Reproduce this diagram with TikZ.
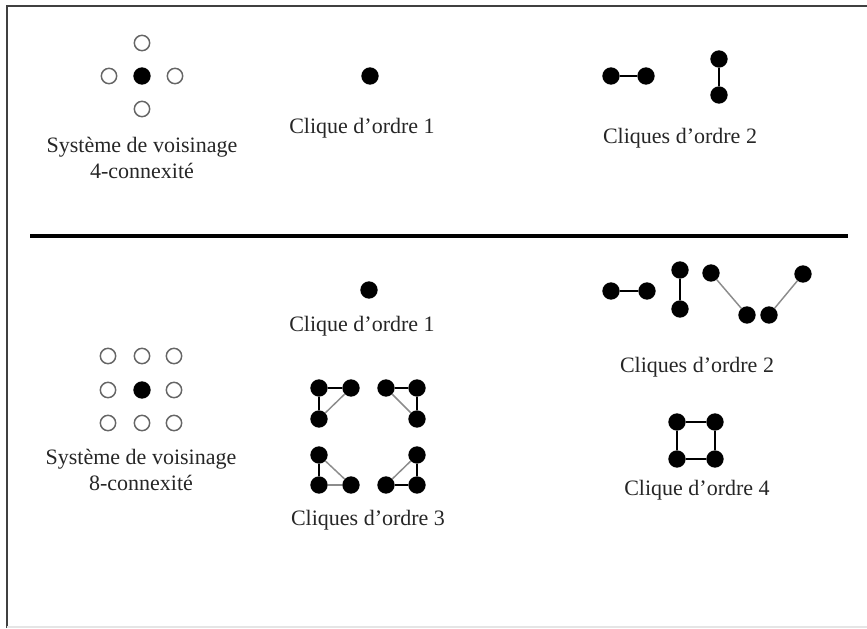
\documentclass[tikz,border=0pt]{standalone}
\usepackage{fontspec}
\setmainfont{Liberation Serif}
\begin{document}
\begin{tikzpicture}[x=0.75pt,y=-0.75pt,
  dot/.style={circle,fill=black,inner sep=0pt,minimum size=13pt},
  odot/.style={circle,draw=black!60,line width=1.1pt,fill=white,inner sep=0pt,minimum size=11.5pt},
  blk/.style={line width=1.6pt,black},
  gry/.style={line width=1.1pt,black!45},
  lbl/.style={font=\fontsize{16.5}{19.5}\selectfont,text=black!85,inner sep=0pt,align=center},
  frame/.style={line width=2pt,black!75}]
\useasboundingbox (0,0) rectangle (867,628);
% frame
\coordinate (fa) at (7,628);
\coordinate (fb) at (7,6);
\coordinate (fc) at (867,6);
\draw[frame] (fa) -- (fb) -- (fc);
\coordinate (fd) at (7,627);
\coordinate (fe) at (867,627);
\draw[line width=0.8pt,black!10] (fd) -- (fe);
% separator
\coordinate (sa) at (30,236);
\coordinate (sb) at (848,236);
\draw[line width=2.4pt] (sa) -- (sb);

% --- top: 4-connexity
\node[odot] (t4n) at (142,43) {};
\node[odot] (t4w) at (109,76) {};
\node[dot]  (t4c) at (142,76) {};
\node[odot] (t4e) at (175,76) {};
\node[odot] (t4s) at (142,109) {};
\node[lbl] (t4l) at (142,158) {Système de voisinage\\4-connexité};

% top: clique order 1
\node[dot] (t1) at (370,76) {};
\node[lbl] (t1l) at (362,128) {Clique d’ordre 1};

% top: cliques order 2
\node[dot] (t2a) at (611,76) {};
\node[dot] (t2b) at (646,76) {};
\draw[blk] (t2a) -- (t2b);
\node[dot] (t2c) at (719,59) {};
\node[dot] (t2d) at (719,95) {};
\draw[blk] (t2c) -- (t2d);
\node[lbl] (t2l) at (680,138) {Cliques d’ordre 2};

% --- bottom: 8-connexity
\node[odot] (g11) at (108,356) {};
\node[odot] (g12) at (142,356) {};
\node[odot] (g13) at (174,356) {};
\node[odot] (g21) at (108,390) {};
\node[dot]  (g22) at (142,390) {};
\node[odot] (g23) at (174,390) {};
\node[odot] (g31) at (108,423) {};
\node[odot] (g32) at (142,423) {};
\node[odot] (g33) at (174,423) {};
\node[lbl] (g8l) at (141,470) {Système de voisinage\\8-connexité};

% bottom: clique order 1
\node[dot] (b1) at (369,290) {};
\node[lbl] (b1l) at (362,326) {Clique d’ordre 1};

% bottom: cliques order 3
\node[dot] (a1) at (319,388) {};
\node[dot] (a2) at (351,388) {};
\node[dot] (a3) at (319,419) {};
\draw[blk] (a3) -- (a1) -- (a2);
\draw[gry] (a2) -- (a3);

\node[dot] (c1) at (386,388) {};
\node[dot] (c2) at (417,388) {};
\node[dot] (c3) at (417,419) {};
\draw[blk] (c1) -- (c2) -- (c3);
\draw[gry] (c1) -- (c3);

\node[dot] (d1) at (319,455) {};
\node[dot] (d2) at (319,485) {};
\node[dot] (d3) at (351,485) {};
\draw[blk] (d1) -- (d2);
\draw[gry] (d2) -- (d3);
\draw[gry] (d1) -- (d3);

\node[dot] (e1) at (417,455) {};
\node[dot] (e2) at (386,485) {};
\node[dot] (e3) at (417,485) {};
\draw[blk] (e1) -- (e3) -- (e2);
\draw[gry] (e1) -- (e2);
\node[lbl] (b3l) at (368,520) {Cliques d’ordre 3};

% bottom: cliques order 2
\node[dot] (p1) at (611,291) {};
\node[dot] (p2) at (647,291) {};
\draw[blk] (p1) -- (p2);
\node[dot] (q1) at (680,270) {};
\node[dot] (q2) at (680,309) {};
\draw[blk] (q1) -- (q2);
\node[dot] (r1) at (711,273) {};
\node[dot] (r2) at (747,315) {};
\draw[gry] (r1) -- (r2);
\node[dot] (s1) at (769,315) {};
\node[dot] (s2) at (803,274) {};
\draw[gry] (s1) -- (s2);
\node[lbl] (b2l) at (697,367) {Cliques d’ordre 2};

% bottom: clique order 4
\node[dot] (k1) at (677,422) {};
\node[dot] (k2) at (715,422) {};
\node[dot] (k3) at (715,459) {};
\node[dot] (k4) at (677,459) {};
\draw[blk] (k1) -- (k2) -- (k3) -- (k4) -- (k1);
\node[lbl] (b4l) at (697,490) {Clique d’ordre 4};
\end{tikzpicture}
\end{document}
